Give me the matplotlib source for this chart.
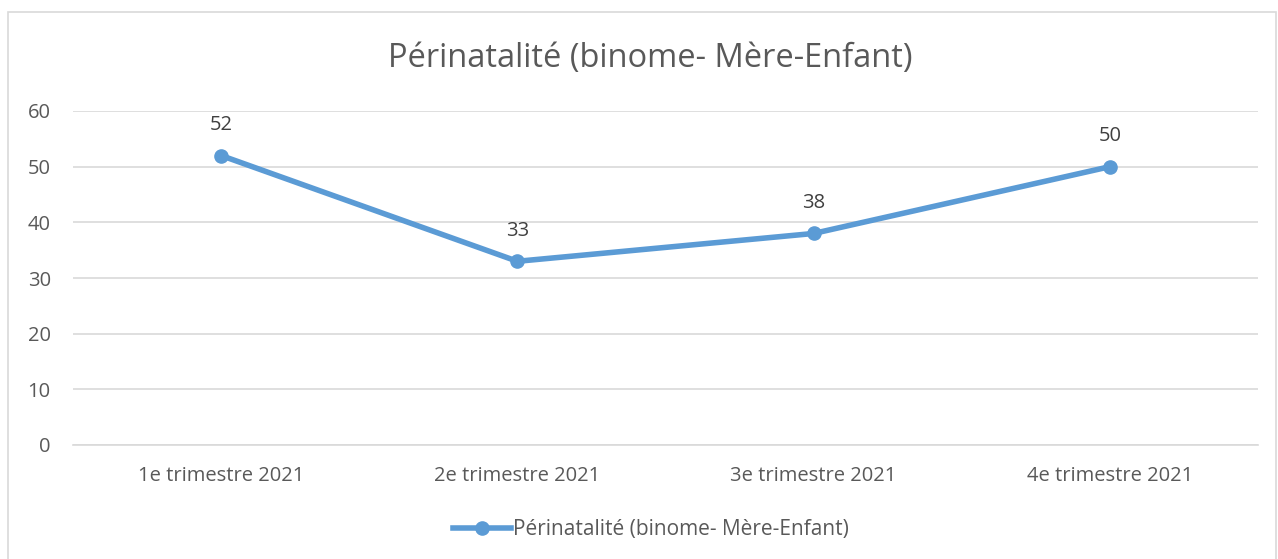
import matplotlib
matplotlib.use("Agg")
import matplotlib.pyplot as plt
from matplotlib.patches import Rectangle
from matplotlib.lines import Line2D

categories = ["1e trimestre 2021", "2e trimestre 2021", "3e trimestre 2021", "4e trimestre 2021"]
values = [52, 33, 38, 50]
series_name = "Périnatalité (binome- Mère-Enfant)"
title = "Périnatalité (binome- Mère-Enfant)"
yticks = [0, 10, 20, 30, 40, 50, 60]

plt.rcParams['font.family'] = ['Open Sans', 'DejaVu Sans']
W, H = 1278, 559
fig = plt.figure(figsize=(W / 100, H / 100), dpi=100)
fig.patch.set_facecolor("white")

# chart border
fig.add_artist(Rectangle((8 / W, -0.01), (1276 - 8) / W, (H - 12) / H + 0.01,
                         transform=fig.transFigure, fill=False,
                         edgecolor="#d9d9d9", linewidth=1.2))

ax = fig.add_axes([73 / W, (H - 445) / H, (1258 - 73) / W, (445 - 111) / H])
blue = "#5b9bd5"
x = list(range(len(categories)))
ax.plot(x, values, color=blue, linewidth=4, marker="o", markersize=9.5,
        solid_capstyle="round", zorder=3)
for xi, v in zip(x, values):
    ax.annotate(str(v), (xi, v), xytext=(0, 22), textcoords="offset points",
                ha="center", va="center", fontsize=14.5, color="#404040")

ax.set_xlim(-0.5, len(categories) - 0.5)
ax.set_ylim(0, 60)
ax.set_yticks(yticks)
ax.set_xticks(x)
ax.set_xticklabels(categories)
ax.tick_params(axis="both", length=0, labelsize=14.5, labelcolor="#595959")
ax.tick_params(axis="x", pad=15)
ax.tick_params(axis="y", pad=16)
for lab in ax.get_yticklabels():
    lab.set_horizontalalignment("right")
ax.grid(axis="y", color="#d9d9d9", linewidth=1.2)
ax.set_axisbelow(True)
for s in ["top", "right", "left"]:
    ax.spines[s].set_visible(False)
ax.spines["bottom"].set_color("#d9d9d9")
ax.spines["bottom"].set_linewidth(1.2)

fig.text(650 / W, 1 - 59 / H, title, ha="center", va="center",
         fontsize=23.5, color="#595959")

handle = Line2D([], [], color=blue, linewidth=4, marker="o", markersize=9.5)
fig.legend([handle], [series_name], loc="center", bbox_to_anchor=(651 / W, 1 - 530 / H),
           frameon=False, fontsize=15, labelcolor="#595959",
           handlelength=2.75, handletextpad=0.1)

fig.savefig("out.png", dpi=100)
